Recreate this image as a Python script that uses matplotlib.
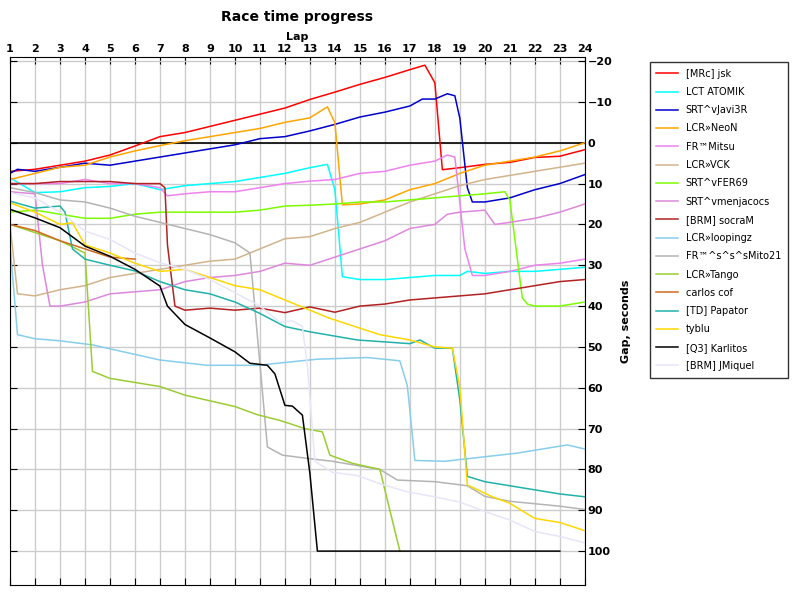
import matplotlib
matplotlib.use("Agg")
import matplotlib.pyplot as plt

# ── Data: (lap, gap in seconds) per driver ──────────────────────
names = ["[MRc] jsk", "LCT ATOMIK", "SRT^vJavi3R", "LCR»NeoN", "FR™Mitsu", "LCR»VCK",
         "SRT^vFER69", "SRT^vmenjacocs", "[BRM] socraM", "LCR»loopingz",
         "FR™^s^s^sMito21", "LCR»Tango", "carlos cof", "[TD] Papator", "tyblu",
         "[Q3] Karlitos", "[BRM] JMiquel"]
colors = ["#ff0000", "#00ffff", "#0000cd", "#ffa500", "#ee82ee", "#d2b48c",
          "#7cfc00", "#dd88dd", "#b22222", "#87ceeb",
          "#b4b4b4", "#9acd32", "#d2691e", "#20b2aa", "#ffd700",
          "#000000", "#e6e6fa"]

jsk_x = [1, 2, 3, 4, 5, 6, 7, 8, 9, 10, 11, 12, 13, 14, 15, 16, 17, 17.6, 18, 18.3, 19, 20, 21, 22, 23, 24]
jsk_y = [7, 6.5, 5.5, 4.5, 3, 0.8, -1.5, -2.5, -4, -5.5, -7, -8.5, -10.6, -12.4, -14.3, -16, -17.9, -19, -14.7, 6.6, 6.1, 5.3, 4.8, 3.6, 3.3, 1.7]

atomik_x = [1, 2, 3, 4, 5, 6, 7, 8, 9, 10, 11, 12, 13, 13.7, 14, 14.3, 15, 16, 17, 18, 19, 19.3, 20, 21, 22, 23, 24]
atomik_y = [8.6, 12.2, 12, 11, 10.7, 10, 11.5, 10.5, 10, 9.5, 8.5, 7.5, 6.1, 5.3, 11.5, 32.8, 33.5, 33.5, 33, 32.5, 32.5, 31.5, 32, 31.5, 31.5, 31, 30.5]

javi_x = [1, 1.3, 2, 3, 4, 5, 6, 7, 8, 9, 10, 11, 12, 13, 14, 15, 16, 17, 17.5, 18, 18.5, 18.8, 19, 19.3, 19.5, 20, 21, 22, 23, 24]
javi_y = [7.5, 6.5, 7, 6, 5, 5.5, 4.5, 3.5, 2.5, 1.5, 0.5, -1, -1.5, -2.9, -4.5, -6.3, -7.5, -9, -10.7, -10.7, -12, -11.5, -6, 11, 14.5, 14.5, 13.5, 11.5, 10, 7.8]

neon_x = [1, 2, 3, 4, 5, 6, 7, 8, 9, 10, 11, 12, 13, 13.7, 14, 14.3, 15, 16, 17, 18, 19, 20, 21, 22, 23, 24]
neon_y = [9, 7.5, 6, 5.5, 3.5, 2, 0.7, -0.5, -1.5, -2.5, -3.5, -5, -6.1, -8.8, -4.9, 15.2, 15, 14, 11.5, 10, 7.5, 5.5, 4.5, 3.5, 2, 0]

mitsu_x = [1, 2, 3, 4, 5, 6, 7, 7.3, 8, 9, 10, 11, 12, 13, 14, 15, 16, 17, 18, 18.5, 18.8, 19.2, 19.5, 20, 21, 22, 23, 24]
mitsu_y = [10, 10, 10, 9, 10, 10, 11, 13, 12.5, 12, 12, 11, 10, 9.4, 9, 7.5, 7, 5.5, 4.5, 3, 3.5, 26, 32.5, 32.5, 31.5, 30, 29.5, 28.5]

vck_x = [1, 1.3, 2, 3, 4, 5, 6, 7, 8, 9, 10, 11, 12, 13, 14, 15, 16, 17, 18, 19, 20, 21, 22, 23, 24]
vck_y = [20, 37, 37.5, 36, 35, 33, 32, 31, 30, 29, 28.5, 26, 23.5, 23, 21, 19.5, 17, 14.5, 12.5, 10.5, 9, 8, 7, 6, 5]

fer_x = [1, 2, 3, 4, 5, 6, 7, 8, 9, 10, 11, 12, 13, 14, 15, 16, 17, 18, 19, 20, 20.8, 21, 21.5, 21.7, 22, 23, 24]
fer_y = [17, 16.5, 17.5, 18.5, 18.5, 17.5, 17, 17, 17, 17, 16.5, 15.5, 15.3, 15, 14.5, 14.5, 14, 13.5, 13, 12.5, 12, 14, 38, 39.5, 40, 40, 39]

menja_x = [1, 2, 2.3, 2.6, 3, 4, 5, 6, 7, 8, 9, 10, 11, 12, 13, 14, 15, 16, 17, 18, 18.5, 19, 20, 20.4, 21, 22, 23, 24]
menja_y = [12, 12.5, 30, 40, 40, 39, 37, 36.5, 36, 34, 33, 32.5, 31.5, 29.5, 30, 28, 26, 24, 21, 20, 17.5, 17, 16.5, 20, 19.5, 18.5, 17, 15]

socra_x = [1, 2, 3, 4, 5, 6, 7, 7.2, 7.3, 7.6, 8, 9, 10, 11, 12, 13, 14, 15, 16, 17, 18, 19, 20, 21, 22, 23, 24]
socra_y = [10, 10, 9.5, 9.5, 9.5, 10, 10, 11, 25, 40, 41, 40.5, 41, 40.5, 41.6, 40.2, 41.5, 40, 39.5, 38.5, 38, 37.5, 37, 36, 35, 34, 33.5]

loop_x = [1, 1.3, 2, 3, 4.3, 7, 8.9, 10.9, 13.3, 15.3, 16.6, 16.9, 17.2, 18.4, 21.3, 23.3, 24]
loop_y = [25, 47, 48, 48.5, 49.5, 53.2, 54.5, 54.5, 53, 52.6, 53.4, 59.5, 77.8, 78, 76, 74, 75]

mito_x = [1, 2, 3, 4, 5, 6, 7, 8, 9, 10, 10.6, 11.3, 11.9, 12.9, 13.9, 15.8, 16.5, 18, 19.3, 20, 21, 23, 24]
mito_y = [11, 12.2, 14, 14.5, 16, 18, 19.5, 21, 22.5, 24.5, 27, 74.5, 76.5, 77.3, 78, 80, 82.6, 83, 84, 86.6, 87.8, 89, 89.8]

tango_x = [1, 2, 3, 4, 4.3, 5, 7, 8, 10, 10.9, 11.8, 12.8, 13.5, 13.8, 14.7, 15.8, 16.6]
tango_y = [20, 22, 24, 27, 56, 57.7, 59.7, 61.8, 64.6, 66.6, 68, 70, 70.8, 76.5, 78.5, 80, 100]

carlos_x = [1, 2, 3, 4, 5, 6]
carlos_y = [20, 21.5, 24, 26, 28, 28.5]

papa_x = [1, 2, 3, 3.2, 3.5, 4, 5, 6, 7, 8, 9, 10, 11, 12, 13, 14.9, 17, 17.4, 18, 18.7, 19, 19.3, 20, 21, 22, 23, 24]
papa_y = [14.3, 16, 15.5, 17, 26, 28.5, 30, 31.4, 34, 36, 37, 39, 41.8, 45, 46.3, 48.3, 49.2, 48.3, 50.3, 50.3, 63, 81.7, 83, 84, 85, 86, 86.7]

tyblu_x = [1, 2, 3, 3.5, 4, 5, 6, 7, 8, 9, 10, 11, 12, 13.8, 15.8, 17, 18, 18.7, 19, 19.3, 20.3, 21, 22, 23, 24]
tyblu_y = [14.7, 17, 20, 19.6, 25, 27, 29.5, 31.5, 31, 33, 35, 36, 38.5, 43, 47, 48.3, 50, 50.3, 59.8, 83.8, 86.7, 88.3, 92, 93, 95]

karl_x = [1, 2, 3, 4, 5, 6, 7, 7.3, 8, 9, 10, 10.6, 11.3, 11.6, 12, 12.3, 12.7, 13, 13.3, 23]
karl_y = [16.3, 18.4, 20.8, 25.3, 27.8, 31, 35.1, 40, 44.5, 47.8, 51.2, 54, 54.5, 56.6, 64.3, 64.5, 66.7, 81, 100, 100]

jmiq_x = [1, 2, 3, 4, 5, 6, 7, 8, 9, 10, 11, 11.8, 12.3, 12.7, 12.9, 13.2, 13.9, 14.9, 15.8, 16.9, 18, 19, 20, 21, 22, 23, 24]
jmiq_y = [12.2, 13.5, 17, 21.6, 23.7, 27, 29.4, 31, 33.5, 36.7, 40, 44, 43.6, 45, 54.7, 78, 80.7, 81.5, 83.5, 85.5, 86.7, 88, 90.3, 92.4, 95.2, 96.4, 98]

xs = [jsk_x, atomik_x, javi_x, neon_x, mitsu_x, vck_x, fer_x, menja_x, socra_x, loop_x,
      mito_x, tango_x, carlos_x, papa_x, tyblu_x, karl_x, jmiq_x]
ys = [jsk_y, atomik_y, javi_y, neon_y, mitsu_y, vck_y, fer_y, menja_y, socra_y, loop_y,
      mito_y, tango_y, carlos_y, papa_y, tyblu_y, karl_y, jmiq_y]

laps = list(range(1, 25))
gap_ticks = list(range(-20, 101, 10))

fig = plt.figure(figsize=(8, 6), dpi=100)
ax = fig.add_axes([0.0125, 0.025, 0.7185, 0.88])

ax.axhline(0, color="black", lw=1.2, zorder=1)
lines = []
for x, y, c, n in zip(xs, ys, colors, names):
    ln, = ax.plot(x, y, color=c, lw=1.1, label=n, zorder=2)
    lines.append(ln)

ax.set_xlim(1, 24)
ax.set_ylim(108.3, -21)
ax.set_xticks(laps)
ax.set_yticks(gap_ticks)
ax.grid(True, color="#cccccc", lw=1)
ax.set_axisbelow(True)
ax.xaxis.tick_top()
ax.tick_params(axis="x", which="both", top=True, bottom=True, labeltop=True, labelbottom=False,
               labelsize=8, direction="in", length=5, pad=2)
ax.tick_params(axis="y", left=True, right=True, labelleft=False, labelright=True,
               labelsize=8, direction="in", length=5, pad=2)
for lab in ax.get_xticklabels() + ax.get_yticklabels():
    lab.set_fontweight("bold")
ax.xaxis.set_label_position("top")
ax.set_xlabel("Lap", fontsize=8, fontweight="bold", labelpad=3)
ax.yaxis.set_label_position("right")
ax.set_ylabel("Gap, seconds", fontsize=8, fontweight="bold", labelpad=6)
fig.text(0.371, 0.972, "Race time progress", fontsize=10, fontweight="bold",
         ha="center", va="center")
for s in ax.spines.values():
    s.set_color("black")

leg = fig.legend(handles=lines, loc="upper left", bbox_to_anchor=(0.806, 0.905),
                 fontsize=7, frameon=True, fancybox=False, edgecolor="black",
                 handlelength=2.2, labelspacing=0.85, borderpad=0.7)

fig.savefig("out.png", dpi=100)
